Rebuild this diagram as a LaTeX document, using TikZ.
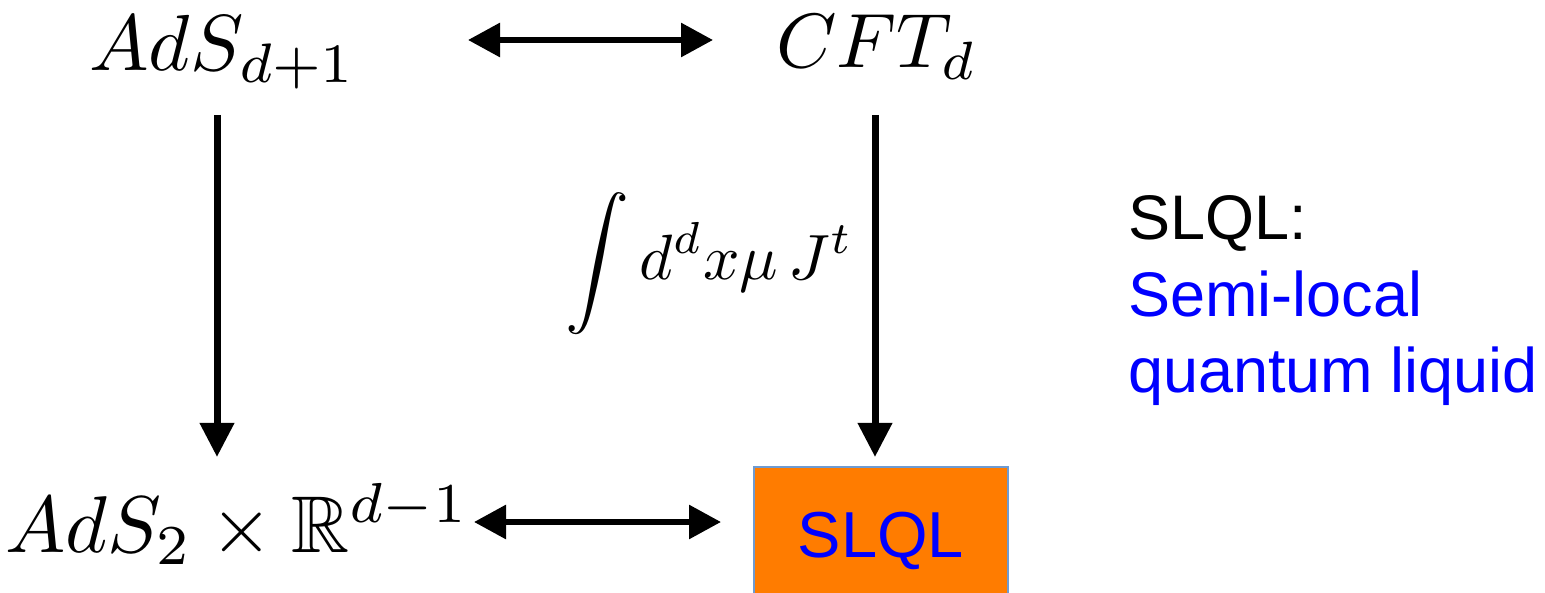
\documentclass[tikz,border=0pt]{standalone}
\usepackage{amssymb}
\usepackage{graphicx}
\usepackage{fontspec}
\newfontfamily\arial{Liberation Sans}
\usetikzlibrary{arrows.meta}
\definecolor{slqlorange}{RGB}{255,124,0}
\definecolor{boxedge}{RGB}{110,155,210}
\definecolor{slqlblue}{RGB}{0,0,255}
\newcommand{\myMath}[2]{\scalebox{#1}{#2}}
\tikzset{
  bigmath/.style={inner sep=0pt},
  sanstext/.style={inner sep=0pt, anchor=base west, font=\fontsize{63}{70}\arial\selectfont},
  thickarrow/.style={line width=7pt, -{Triangle[length=34pt,width=33pt]}},
  dblarrow/.style={line width=6pt, {Triangle[length=32pt,width=33pt]}-{Triangle[length=32pt,width=33pt]}},
  slqlbox/.style={draw=boxedge, line width=1.2pt, fill=slqlorange, inner sep=0pt,
    minimum width=254pt, minimum height=135pt, text=slqlblue, text depth=0pt,
    font=\fontsize{65}{70}\arial\selectfont}
}
\begin{document}
\begin{tikzpicture}[x=1pt,y=-1pt]
\useasboundingbox (0,0) rectangle (1545,593);
% texts
\node[bigmath, anchor=base] (ads) at (223,71) {\myMath{7.95}{$AdS_{d+1}$}};
\node[bigmath, anchor=base] (cft) at (877,68) {\myMath{7.7}{$CFT_d$}};
\node[bigmath, anchor=base west] (ads2) at (5,552) {\myMath{8.05}{$AdS_2\times\mathbb{R}^{d-1}$}};
\node[bigmath, anchor=base west] (int) at (565,280) {\myMath{6.4}{$\displaystyle\int d^d x\mu\, J^t$}};
\node[slqlbox] (slql) at (881,534.5) {SLQL};
\node[sanstext] (t1) at (1128,240) {SLQL:};
\node[sanstext, text=slqlblue] (t2) at (1128,317) {Semi-local};
\node[sanstext, text=slqlblue] (t3) at (1128,393) {quantum liquid};
% arrow end points
\coordinate (topL) at (468,40);
\coordinate (topR) at (713,40);
\coordinate (botL) at (474,522);
\coordinate (botR) at (721,522);
\coordinate (lTop) at (217,115);
\coordinate (lBot) at (217,457);
\coordinate (rTop) at (875,115);
\coordinate (rBot) at (875,457);
\draw[dblarrow] (topL) -- (topR);
\draw[dblarrow] (botL) -- (botR);
\draw[thickarrow] (lTop) -- (lBot);
\draw[thickarrow] (rTop) -- (rBot);
\end{tikzpicture}
\end{document}
